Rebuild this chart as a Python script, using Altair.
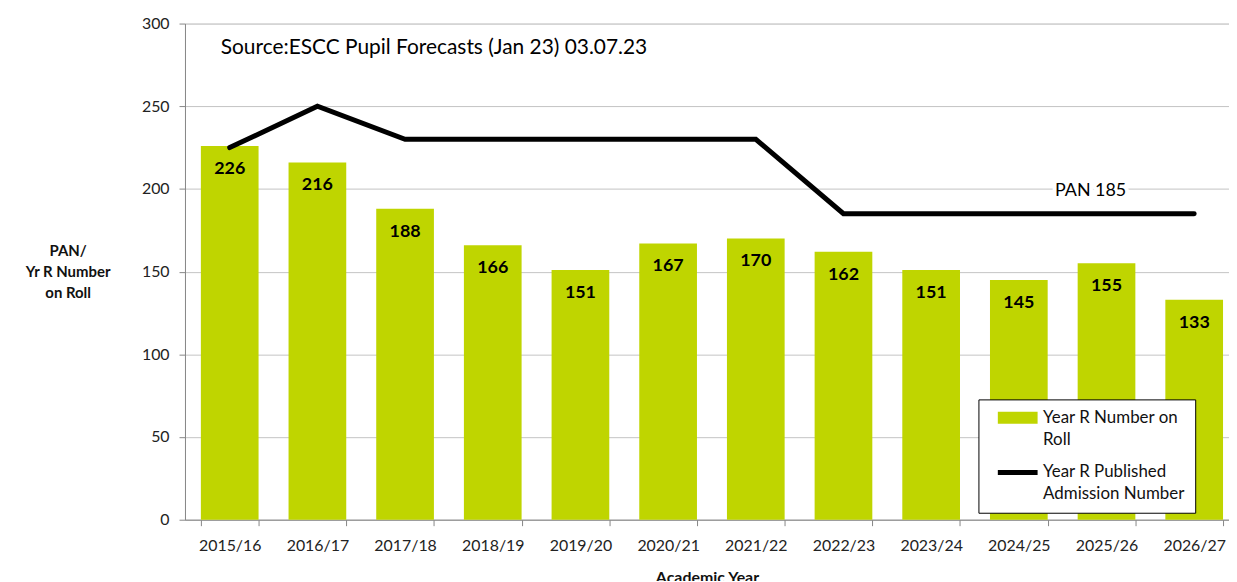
import altair as alt
import pandas as pd

years = ["2015/16", "2016/17", "2017/18", "2018/19", "2019/20", "2020/21",
         "2021/22", "2022/23", "2023/24", "2024/25", "2025/26", "2026/27"]
roll = [226, 216, 188, 166, 151, 167, 170, 162, 151, 145, 155, 133]
pan = [225, 250, 230, 230, 230, 230, 230, 185, 185, 185, 185, 185]

series_names = ["Year R Number on Roll", "Year R Published Admission Number"]
y_ticks = [0, 50, 100, 150, 200, 250, 300]

source_text = ["Source:ESCC Pupil Forecasts (Jan 23) 03.07.23"]
source_x = ["2015/16"]
source_y = [285]
pan_text = ["PAN 185"]
pan_x = ["2025/26"]
pan_y = [198.5]

GREEN = "#bfd500"
FONT = "Lato"

df = pd.DataFrame({"year": years, "roll": roll, "pan": pan,
                   "series": [series_names[1]] * len(years)})
src = pd.DataFrame({"year": source_x, "v": source_y, "t": source_text})
pl = pd.DataFrame({"year": pan_x, "v": pan_y, "t": pan_text})

xscale = alt.Scale(domain=years, paddingInner=0.342, paddingOuter=0.1246, align=0.727)
yscale = alt.Scale(domain=[0, 300], nice=False)

x_enc = alt.X("year:N", scale=xscale, sort=years,
              axis=alt.Axis(title="Academic Year", labelAngle=0, tickBand="extent",
                            labelFontSize=16, labelColor="#222222", labelFont=FONT,
                            tickSize=6, tickColor="#868686", domainColor="#868686",
                            labelPadding=12, titleFont=FONT, titleFontSize=16,
                            titleFontWeight="bold", titleColor="#111111",
                            titlePadding=16, grid=False))
y_enc = alt.Y("roll:Q", scale=yscale,
              axis=alt.Axis(values=y_ticks, title=["PAN/", "Yr R Number", "on Roll"],
                            titleAngle=0, titleX=-118, titleY=228,
                            titleAlign="center", titleBaseline="middle",
                            titleFont=FONT, titleFontSize=15, titleFontWeight="bold",
                            titleColor="#111111",
                            labelFontSize=16, labelColor="#222222", labelFont=FONT,
                            tickSize=6, tickColor="#868686", domainColor="#868686",
                            labelPadding=10, gridColor="#c4c4c4", grid=True))

base = alt.Chart(df)

bars = base.mark_bar(color=GREEN).encode(x=x_enc, y=y_enc)

bar_labels = base.mark_text(baseline="middle", dy=23, fontSize=18, fontWeight="bold",
                            font=FONT, color="#000000").encode(
    x=alt.X("year:N", scale=xscale, sort=years),
    y=alt.Y("roll:Q", scale=yscale),
    text="roll:Q")

line = base.mark_line(strokeWidth=5, strokeCap="round", strokeJoin="miter").encode(
    x=alt.X("year:N", scale=xscale, sort=years),
    y=alt.Y("pan:Q", scale=yscale),
    color=alt.Color("series:N",
                    scale=alt.Scale(domain=series_names, range=[GREEN, "#000000"]),
                    legend=alt.Legend(
                        title=None, orient="none", legendX=798, legendY=378,
                        symbolType="stroke", symbolSize=1600,
                        symbolStrokeWidth=alt.ExprRef(
                            "datum.value === 'Year R Number on Roll' ? 12 : 5"),
                        labelExpr="datum.value === 'Year R Number on Roll' ? "
                                  "['Year R Number on', 'Roll'] : "
                                  "['Year R Published', 'Admission Number']",
                        labelFont=FONT, labelFontSize=17, labelColor="#111111",
                        labelBaseline="middle", labelOffset=17, labelLimit=300,
                        fillColor="white", strokeColor="#000000", padding=10,
                        symbolOffset=21, rowPadding=14)))

src_text = alt.Chart(src).mark_text(align="left", baseline="middle", dx=-9,
                                    fontSize=21, font=FONT, color="#000000").encode(
    x=alt.X("year:N", scale=xscale, sort=years),
    y=alt.Y("v:Q", scale=yscale), text="t:N")

pan_halo = alt.Chart(pl).mark_text(align="center", baseline="middle", dx=-16,
                                   fontSize=18, font=FONT, color="white",
                                   stroke="white", strokeWidth=8).encode(
    x=alt.X("year:N", scale=xscale, sort=years),
    y=alt.Y("v:Q", scale=yscale), text="t:N")
pan_lbl = alt.Chart(pl).mark_text(align="center", baseline="middle", dx=-16,
                                  fontSize=18, font=FONT, color="#000000").encode(
    x=alt.X("year:N", scale=xscale, sort=years),
    y=alt.Y("v:Q", scale=yscale), text="t:N")

chart = alt.layer(bars, bar_labels, pan_halo, pan_lbl, line, src_text).properties(
    width=1050, height=499,
    autosize=alt.AutoSizeParams(type="none"),
    padding={"left": 178, "top": 14, "right": 0, "bottom": 60},
).configure_view(stroke=None).configure_legend(strokeWidth=2).configure(
    background="white",
    style={"guide-label": {"lineHeight": 22}, "guide-title": {"lineHeight": 21.5}},
)

chart.save("out.html", embed_options={"renderer": "svg", "actions": False})
